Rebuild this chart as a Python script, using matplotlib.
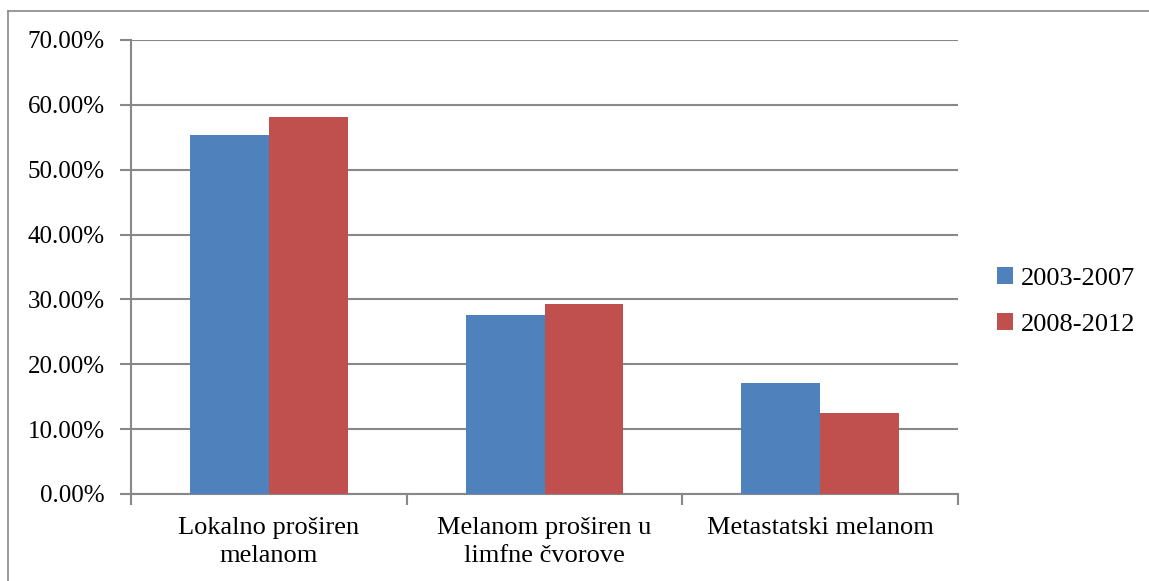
import numpy as np
import matplotlib.pyplot as plt
from matplotlib.lines import Line2D

categories = ['Lokalno proširen\nmelanom', 'Melanom proširen u\nlimfne čvorove', 'Metastatski melanom']
series_names = ['2003-2007', '2008-2012']
vals_0307 = [55.35, 27.6, 17.05]
vals_0812 = [58.2, 29.3, 12.5]
yticks = [0, 10, 20, 30, 40, 50, 60, 70]

blue = '#4F81BD'
red = '#C0504D'
grid_col = '#888888'

plt.rcParams['font.family'] = ['Liberation Serif', 'DejaVu Serif']

W, H = 1149, 581
fig = plt.figure(figsize=(W / 100, H / 100), dpi=100)

# outer frame (only left and top edges are visible in the original)
fig.add_artist(Line2D([8 / W, 8 / W], [-0.1, 1 - 11 / H], color=grid_col, lw=1.2, transform=fig.transFigure))
fig.add_artist(Line2D([8 / W, 1.1], [1 - 11 / H, 1 - 11 / H], color=grid_col, lw=1.2, transform=fig.transFigure))

left, right, top, bottom = 131, 958, 40, 494
ax = fig.add_axes([left / W, 1 - bottom / H, (right - left) / W, (bottom - top) / H])

x = np.arange(len(categories))
bw = 1 / 3.5
ax.bar(x - bw / 2, vals_0307, bw, color=blue, label=series_names[0], zorder=3)
ax.bar(x + bw / 2, vals_0812, bw, color=red, label=series_names[1], zorder=3)

ax.set_xlim(-0.5, len(categories) - 0.5)
ax.set_ylim(0, 70)
ax.set_yticks(yticks)
ax.set_yticklabels([f'{v:.2f}%' for v in yticks], fontsize=18)
ax.yaxis.grid(True, color=grid_col, lw=1.5, zorder=0)

for s in ['top', 'right']:
    ax.spines[s].set_visible(False)
for s in ['left', 'bottom']:
    ax.spines[s].set_color(grid_col)
    ax.spines[s].set_linewidth(1.5)

ax.tick_params(axis='y', length=8, width=1.5, color=grid_col, pad=11)
ax.set_xticks(np.arange(-0.5, len(categories)))
ax.set_xticklabels([])
ax.tick_params(axis='x', length=8, width=1.5, color=grid_col)
for i, c in enumerate(categories):
    ax.text(i, -3.5, c, ha='center', va='top', fontsize=19, linespacing=1.4)

leg = fig.legend(loc='upper left', bbox_to_anchor=(997 / W, 1 - 267 / H), frameon=False,
                 fontsize=19, handlelength=0.6, handleheight=0.6, handletextpad=0.3,
                 labelspacing=0.88, borderaxespad=0, borderpad=0)

fig.savefig('out.png', dpi=100)
